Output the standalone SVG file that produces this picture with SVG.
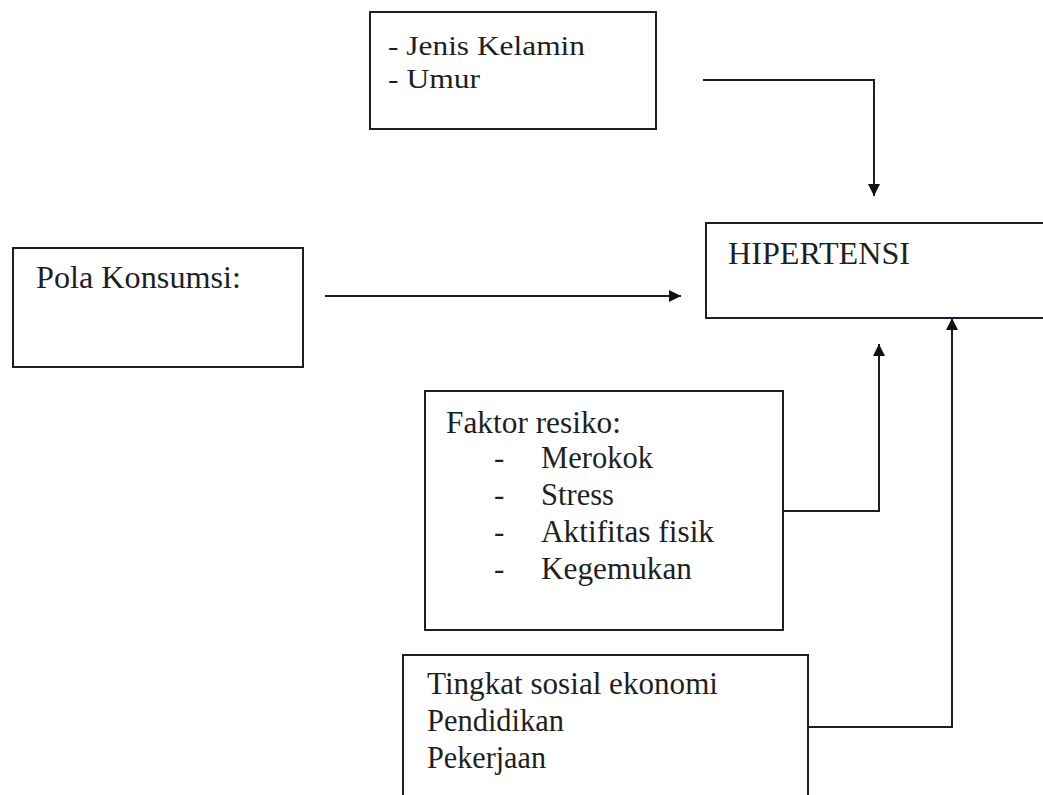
<svg xmlns="http://www.w3.org/2000/svg" width="1043" height="795" viewBox="0 0 1043 795">
  <style>
    .box { fill: #ffffff; stroke: #1c1c2e; stroke-width: 2; }
    .t { font-family: "Liberation Serif", "Times New Roman", serif; font-size: 31px; fill: #1f1f1f; }
    .s { font-size: 28px; }
    .c { fill: none; stroke: #1c1c2e; stroke-width: 2; }
  </style>
  <defs>
    <marker id="ah" viewBox="0 0 10 10" refX="10" refY="5" markerWidth="6" markerHeight="6" orient="auto" markerUnits="strokeWidth">
      <path d="M0,0 L10,5 L0,10 z" fill="#111111"/>
    </marker>
  </defs>
  <rect width="1043" height="795" fill="#ffffff"/>

  <g id="node-jenis">
    <rect class="box" x="370" y="12" width="286" height="117"/>
    <text class="t s" x="388" y="55" textLength="197" lengthAdjust="spacingAndGlyphs">- Jenis Kelamin</text>
    <text class="t s" x="388" y="88" textLength="92" lengthAdjust="spacingAndGlyphs">- Umur</text>
  </g>

  <g id="node-hipertensi">
    <rect class="box" x="706" y="223" width="350" height="95"/>
    <text class="t" x="728" y="264" textLength="182" lengthAdjust="spacingAndGlyphs">HIPERTENSI</text>
  </g>

  <g id="node-pola">
    <rect class="box" x="13" y="248" width="290" height="119"/>
    <text class="t" x="36" y="288" textLength="205" lengthAdjust="spacingAndGlyphs">Pola Konsumsi:</text>
  </g>

  <g id="node-faktor">
    <rect class="box" x="425" y="391" width="358" height="239"/>
    <text class="t" x="446" y="433" textLength="175" lengthAdjust="spacingAndGlyphs">Faktor resiko:</text>
    <text class="t" x="494" y="468">-</text>
    <text class="t" x="541" y="468" textLength="112" lengthAdjust="spacingAndGlyphs">Merokok</text>
    <text class="t" x="494" y="505">-</text>
    <text class="t" x="541" y="505" textLength="73" lengthAdjust="spacingAndGlyphs">Stress</text>
    <text class="t" x="494" y="542">-</text>
    <text class="t" x="541" y="542" textLength="173" lengthAdjust="spacingAndGlyphs">Aktifitas fisik</text>
    <text class="t" x="494" y="579">-</text>
    <text class="t" x="541" y="579" textLength="151" lengthAdjust="spacingAndGlyphs">Kegemukan</text>
  </g>

  <g id="node-sosial">
    <rect class="box" x="403" y="655" width="405" height="160"/>
    <text class="t" x="427" y="694" textLength="291" lengthAdjust="spacingAndGlyphs">Tingkat sosial ekonomi</text>
    <text class="t" x="427" y="731" textLength="137" lengthAdjust="spacingAndGlyphs">Pendidikan</text>
    <text class="t" x="427" y="768" textLength="119" lengthAdjust="spacingAndGlyphs">Pekerjaan</text>
  </g>

  <g id="connectors">
    <path class="c" d="M703,80 H874 V196" marker-end="url(#ah)"/>
    <path class="c" d="M325,296 H681" marker-end="url(#ah)"/>
    <path class="c" d="M783,511 H879 V344" marker-end="url(#ah)"/>
    <path class="c" d="M808,727 H952 V318" marker-end="url(#ah)"/>
  </g>
</svg>
